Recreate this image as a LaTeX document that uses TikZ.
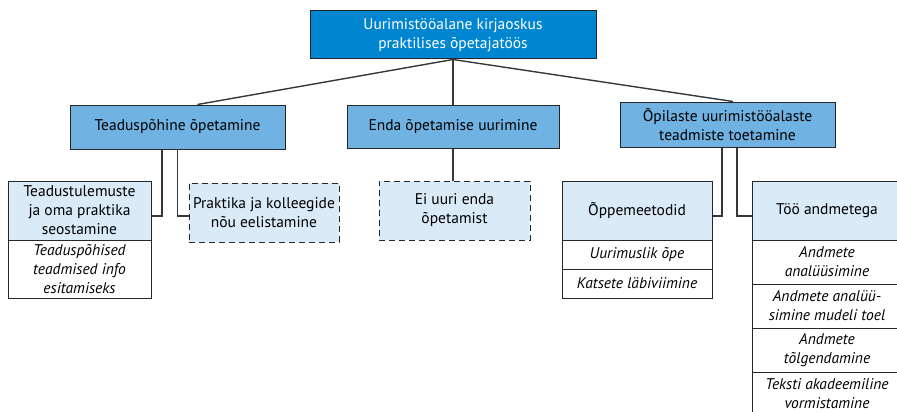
\documentclass[tikz,border=0pt]{standalone}
\usepackage{fontspec}
\setmainfont{PT Sans}
\usepackage{tikz}
\usetikzlibrary{positioning,calc}
\definecolor{topblue}{RGB}{0,133,208}
\definecolor{midblue}{RGB}{112,179,227}
\definecolor{softblue}{RGB}{218,234,247}
\definecolor{edge}{RGB}{38,38,38}
\definecolor{wire}{RGB}{55,55,55}
\tikzset{
  box/.style={draw=edge,line width=1pt,align=center,inner sep=1pt,font=\fontsize{15.5}{19}\selectfont},
  topbox/.style={box,fill=topblue,text=white,minimum width=286pt,minimum height=48pt},
  midbox/.style={box,fill=midblue,minimum height=44pt},
  subbox/.style={box,fill=softblue,minimum height=59pt},
  dashbox/.style={subbox,dash pattern=on 6pt off 4pt},
  itembox/.style={box,fill=white,font=\fontsize{15.5}{19}\selectfont\itshape},
  link/.style={draw=wire,line width=1.4pt},
}
\begin{document}
\begin{tikzpicture}[x=1pt,y=-1pt]
  \useasboundingbox (0,0) rectangle (897,412);
  \node[topbox] (top) at (453,35) {Uurimistööalane kirjaoskus\\praktilises õpetajatöös};
  \node[midbox,minimum width=215pt] (tp) at (177.5,127) {Teaduspõhine õpetamine};
  \node[midbox,minimum width=212pt,minimum height=43pt] (enda) at (453,126.5) {Enda õpetamise uurimine};
  \node[midbox,minimum width=215pt,minimum height=45pt] (opil) at (727.5,124.5) {Õpilaste uurimistööalaste\\teadmiste toetamine};
  \node[subbox,minimum width=143pt] (teadust) at (79.5,210.5) {Teadustulemuste\\ja oma praktika\\seostamine};
  \node[itembox,minimum width=143pt,minimum height=58pt] (teadust1) at (79.5,269) {Teaduspõhised\\teadmised info\\esitamiseks};
  \node[dashbox,minimum width=150pt] (prakt) at (264,212.5) {Praktika ja kolleegide\\nõu eelistamine};
  \node[dashbox,minimum width=151pt] (eiuuri) at (454.5,210.5) {Ei uuri enda\\õpetamist};
  \node[subbox,minimum width=150pt] (oppe) at (637,210.5) {Õppemeetodid};
  \foreach \t [count=\i] in {Uurimuslik õpe,Katsete läbiviimine}
    \node[itembox,minimum width=150pt,minimum height=29pt] (oppe\i) at (637,225.5+29*\i) {\t};
  \node[subbox,minimum width=150pt] (too) at (827,210.5) {Töö andmetega};
  \foreach \t [count=\i] in {{Andmete\\analüüsimine},{Andmete analüü-\\simine mudeli toel},{Andmete\\tõlgendamine},{Teksti akadeemiline\\vormistamine}}
    \node[itembox,minimum width=150pt,minimum height=44pt] (too\i) at (827,218+44*\i) {\t};
  \draw[link] (top.south) -- ([xshift=20pt]tp.north);
  \draw[link] (top.south) -- (enda.north);
  \draw[link] (top.south) -- ([xshift=5.5pt]opil.north);
  \draw[link] ([xshift=-15.5pt]tp.south) |- ([yshift=-5.5pt]teadust.east);
  \draw[link] (tp.south) |- ([yshift=-3.5pt]prakt.west);
  \draw[link] (enda.south) -- (enda.south |- eiuuri.north);
  \draw[link] ([xshift=-5.5pt]opil.south) |- ([yshift=-5.5pt]oppe.east);
  \draw[link] ([xshift=9.5pt]opil.south) |- ([yshift=-5.5pt]too.west);
\end{tikzpicture}
\end{document}
